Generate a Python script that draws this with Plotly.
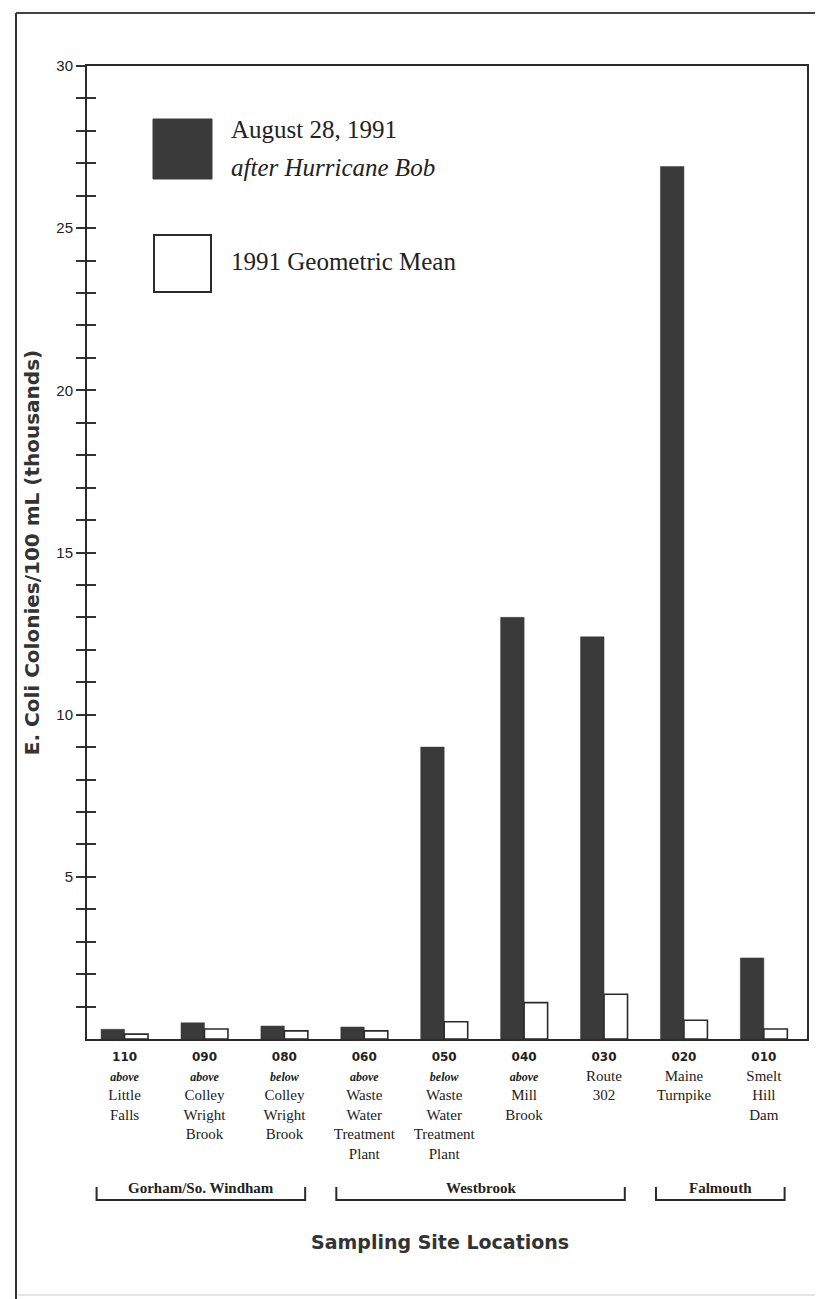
import plotly.graph_objects as go

# ---------------- data ----------------
site_codes = ["110", "090", "080", "060", "050", "040", "030", "020", "010"]
site_qualifiers = ["above", "above", "below", "above", "below", "above", "", "", ""]
site_names = ["Little Falls", "Colley Wright Brook", "Colley Wright Brook",
              "Waste Water Treatment Plant", "Waste Water Treatment Plant",
              "Mill Brook", "Route 302", "Maine Turnpike", "Smelt Hill Dam"]
after_bob = [0.30, 0.50, 0.40, 0.37, 9.0, 13.0, 12.4, 26.9, 2.5]
geo_mean = [0.15, 0.31, 0.25, 0.25, 0.53, 1.12, 1.38, 0.58, 0.31]
series_names = ["August 28, 1991", "1991 Geometric Mean"]
series_subtitle = "after Hurricane Bob"
groups = ["Gorham/So. Windham", "Westbrook", "Falmouth"]
group_first = [0, 3, 7]
group_last = [2, 6, 8]
y_major = [5, 10, 15, 20, 25, 30]
y_title = "E. Coli Colonies/100 mL (thousands)"
x_title = "Sampling Site Locations"

# ---------------- layout geometry ----------------
O = 8                      # page offset of the figure (browser body margin)
W, H = 823 - O, 1299 - O
L, T = 87 - O, 66 - O
R = W - (807 - O)
B = H - (1039 - O)
PW, PH = W - L - R, H - T - B

def px(xp):   # page pixel -> paper x
    return (xp - O - L) / PW

def py(yp):   # page pixel -> paper y
    return (H - B - (yp - O)) / PH

DARK = "#3a3a3a"
INK = "#2b2b2b"
SERIF = "Liberation Serif"
SANS_B = "DejaVu Sans"

def tick_label(code, qual, name):
    parts = [f'<span style="font-family:{SANS_B};font-weight:bold;font-size:12px">{code}</span>']
    if qual:
        parts.append(f'<span style="font-weight:bold;font-style:italic;font-size:12px">{qual}</span>')
    parts += name.split(" ")
    return "<br>".join(parts)

ticktext = [tick_label(c, q, n) for c, q, n in zip(site_codes, site_qualifiers, site_names)]

fig = go.Figure()
fig.add_trace(go.Bar(x=site_codes, y=after_bob, name=series_names[0],
                     marker=dict(color=DARK, line=dict(color=DARK, width=0.5))))
fig.add_trace(go.Bar(x=site_codes, y=geo_mean, name=series_names[1],
                     marker=dict(color="white", line=dict(color=INK, width=1.6))))
# overlay axis carrying the inner half of the y ticks
fig.add_trace(go.Scatter(x=[None], y=[None], yaxis="y2", showlegend=False, hoverinfo="skip"))

yticks = list(range(1, 31))
ytext = [str(v) if v in y_major else "" for v in yticks]

fig.update_layout(
    width=W, height=H,
    margin=dict(l=L, r=R, t=T, b=B, autoexpand=False),
    paper_bgcolor="white", plot_bgcolor="white",
    showlegend=False,
    barmode="group", bargap=0.412, bargroupgap=0,
    font=dict(family=SERIF, size=15, color="#222"),
    xaxis=dict(type="category", range=[-0.47, 8.54], tickvals=site_codes, ticktext=ticktext,
               showline=True, linecolor=INK, linewidth=2, mirror=True,
               ticks="", showgrid=False, zeroline=False,
               tickfont=dict(family=SERIF, size=15, color="#222"),
               ticklabelstandoff=2, automargin=False),
    yaxis=dict(range=[0, 30], tickvals=yticks, ticktext=ytext,
               showline=True, linecolor=INK, linewidth=2, mirror=True,
               ticks="outside", ticklen=9, tickwidth=2, tickcolor="#333",
               showgrid=False, zeroline=False,
               tickfont=dict(family="Liberation Sans", size=15, color="#222"),
               title=dict(text=y_title, standoff=11,
                          font=dict(family=SANS_B, size=20, weight="bold", color="#333")),
               automargin=False),
    yaxis2=dict(range=[0, 30], overlaying="y", side="left", tickvals=yticks,
                showticklabels=False, ticks="inside", ticklen=9, tickwidth=2,
                tickcolor="#333", showgrid=False, zeroline=False, showline=False),
)

shapes = []
annotations = []

# outer page frame
shapes.append(dict(type="line", xref="paper", yref="paper", x0=px(16), x1=px(823),
                   y0=py(13), y1=py(13), line=dict(color="#444", width=2)))
shapes.append(dict(type="line", xref="paper", yref="paper", x0=px(16), x1=px(16),
                   y0=py(13), y1=py(1299), line=dict(color="#333", width=2)))
shapes.append(dict(type="line", xref="paper", yref="paper", x0=px(18), x1=px(823),
                   y0=py(1295), y1=py(1295), line=dict(color="#ddd", width=1.5)))

# legend (custom large swatches)
shapes.append(dict(type="rect", xref="paper", yref="paper", x0=px(153), x1=px(212),
                   y0=py(179), y1=py(119), fillcolor=DARK, line=dict(color=DARK, width=1)))
shapes.append(dict(type="rect", xref="paper", yref="paper", x0=px(154), x1=px(211),
                   y0=py(292), y1=py(235), fillcolor="white", line=dict(color=INK, width=2)))
annotations.append(dict(xref="paper", yref="paper", x=px(229), y=py(130), xanchor="left",
                        yanchor="middle", showarrow=False, text=series_names[0],
                        font=dict(family=SERIF, size=25, color="#222")))
annotations.append(dict(xref="paper", yref="paper", x=px(229), y=py(167), xanchor="left",
                        yanchor="middle", showarrow=False, text=f"<i>{series_subtitle}</i>",
                        font=dict(family=SERIF, size=25, color="#222")))
annotations.append(dict(xref="paper", yref="paper", x=px(229), y=py(262), xanchor="left",
                        yanchor="middle", showarrow=False, text=series_names[1],
                        font=dict(family=SERIF, size=25, color="#222")))

# group brackets
for g, f, l in zip(groups, group_first, group_last):
    x0, x1 = f - 0.35, l + 0.26
    shapes.append(dict(type="path", xref="x", yref="paper",
                       path=f"M {x0},{py(1187)} L {x0},{py(1200)} L {x1},{py(1200)} L {x1},{py(1187)}",
                       line=dict(color=INK, width=2)))
    annotations.append(dict(xref="x", yref="paper", x=(x0 + x1) / 2, y=py(1188),
                            xanchor="center", yanchor="middle", showarrow=False,
                            text=f"<b>{g}</b>", font=dict(family=SERIF, size=15, color="#222")))

# x axis title
annotations.append(dict(xref="paper", yref="paper", x=px(440), y=py(1242), xanchor="center",
                        yanchor="middle", showarrow=False, text=x_title,
                        font=dict(family=SANS_B, size=19, weight="bold", color="#333")))

fig.update_layout(shapes=shapes, annotations=annotations)
fig.write_html("out.html")
